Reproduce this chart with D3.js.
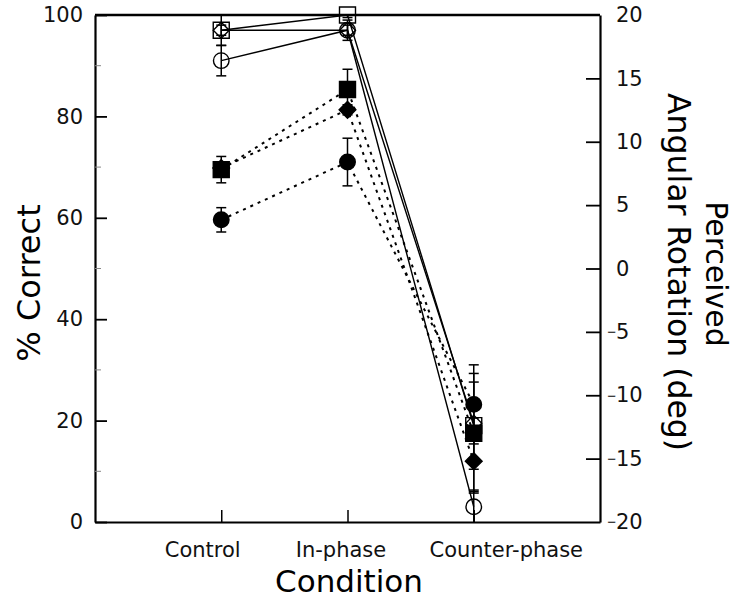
<!DOCTYPE html>
<html>
<head>
<meta charset="utf-8">
<script src="https://cdn.jsdelivr.net/npm/d3@7"></script>
<style>
  body { margin: 0; background: #fff; }
  svg { font-family: "DejaVu Sans", sans-serif; }
</style>
</head>
<body>
<svg id="chart" width="735" height="600"></svg>
<script>
// conditions on the x axis
const conditions = ["Control", "In-phase", "Counter-phase"];

// open symbols, solid lines (% correct)
const openSquare = [97, 100, 19];
const openSquareErr = [3, 0.5, 8.6];
const openDiamond = [97, 97, 19.5];
const openDiamondErr = [1, 1, 1];
const openCircle = [91, 97, 3];
const openCircleErr = [3, 2, 3.3];

// filled symbols, dotted lines
const filledSquare = [69.5, 85.3, 17.5];
const filledSquareErr = [2.6, 4, 11.8];
const filledDiamond = [69.8, 81.3, 12];
const filledDiamondErr = [1, 1, 6];
const filledCircle = [59.6, 71, 23.2];
const filledCircleErr = [2.4, 4.7, 7.8];

const leftTicks = [0, 20, 40, 60, 80, 100];
const leftMinor = [10, 30, 50, 70, 90];
const rightTicks = [-20, -15, -10, -5, 0, 5, 10, 15, 20];

const series = [
  { vals: openSquare, err: openSquareErr, shape: "square", filled: false },
  { vals: openDiamond, err: openDiamondErr, shape: "diamond", filled: false },
  { vals: openCircle, err: openCircleErr, shape: "circle", filled: false },
  { vals: filledSquare, err: filledSquareErr, shape: "square", filled: true },
  { vals: filledDiamond, err: filledDiamondErr, shape: "diamond", filled: true },
  { vals: filledCircle, err: filledCircleErr, shape: "circle", filled: true }
];

const plotL = 95, plotR = 600, plotT = 15, plotB = 522;
// the category labels sit a little off their ticks in the original
const labelShift = [-19, -7, 32];
const svg = d3.select("#chart");

const x = d3.scaleLinear().domain([0, 4]).range([plotL, plotR]);
const y = d3.scaleLinear().domain([0, 100]).range([plotB, plotT]);
const yr = d3.scaleLinear().domain([-20, 20]).range([plotB, plotT]);

// axes
const gl = svg.append("g").attr("transform", `translate(${plotL},0)`)
  .call(d3.axisLeft(y).tickValues(leftTicks).tickSize(-12).tickSizeOuter(0).tickPadding(12));
gl.selectAll("line").attr("stroke-width", 1.8);
gl.append("g").selectAll("line").data(leftMinor).join("line")
  .attr("x1", 0).attr("x2", 6).attr("y1", d => y(d)).attr("y2", d => y(d))
  .attr("stroke", "#888").attr("stroke-width", 1);

const gr = svg.append("g").attr("transform", `translate(${plotR},0)`)
  .call(d3.axisRight(yr).tickValues(rightTicks).tickSize(-14).tickSizeOuter(0).tickPadding(16)
    .tickFormat(d => Math.abs(d)));
gr.selectAll("line").attr("stroke-width", 1.8);
gr.selectAll(".tick line").filter(d => d === 20 || d === -20).remove();

const gb = svg.append("g").attr("transform", `translate(0,${plotB})`)
  .call(d3.axisBottom(x).tickValues([1, 2, 3]).tickSize(-12).tickSizeOuter(0).tickPadding(20)
    .tickFormat(d => conditions[d - 1]));
gb.selectAll("line").attr("stroke-width", 1.5);
gb.selectAll(".tick text").attr("dx", d => labelShift[d - 1]);

[gl, gr, gb].forEach(g => {
  g.selectAll("text").attr("font-size", 21).attr("fill", "#111")
    .attr("font-family", "DejaVu Sans");
  g.select(".domain").attr("stroke-width", 2.2).attr("stroke", "#000");
});

// hanging minus signs for the negative right-hand labels
gr.selectAll(".tick").filter(d => d < 0).append("text")
  .attr("x", 16).attr("dy", "0.32em")
  .attr("text-anchor", "end")
  .attr("font-size", 15).attr("fill", "#111")
  .text("\u2212");

svg.append("line").attr("x1", plotL).attr("x2", plotR).attr("y1", plotT).attr("y2", plotT)
  .attr("stroke", "#000").attr("stroke-width", 2.6);

// connecting lines
const line = d3.line().x((d, i) => x(i + 1)).y(d => y(d));
svg.append("g").selectAll("path").data(series).join("path")
  .attr("d", s => line(s.vals))
  .attr("fill", "none")
  .attr("stroke", "#000")
  .attr("stroke-width", s => s.filled ? 2 : 1.4)
  .attr("stroke-dasharray", s => s.filled ? "3,5" : null);

// error bars
const bars = [];
series.forEach(s => s.vals.forEach((v, i) => bars.push({ i: i, v: v, e: s.err[i] })));
const eb = svg.append("g").attr("stroke", "#000").attr("stroke-width", 1.5);
eb.selectAll(".v").data(bars).join("line")
  .attr("x1", d => x(d.i + 1)).attr("x2", d => x(d.i + 1))
  .attr("y1", d => y(Math.min(100, d.v + d.e))).attr("y2", d => y(Math.max(0, d.v - d.e)));
eb.selectAll(".cap").data(bars.flatMap(d => [d.v + d.e, d.v - d.e].map(c => ({ i: d.i, c: c }))))
  .join("line")
  .attr("x1", d => x(d.i + 1) - 5).attr("x2", d => x(d.i + 1) + 5)
  .attr("y1", d => y(d.c)).attr("y2", d => y(d.c))
  .attr("display", d => (d.c > 100 || d.c < 0) ? "none" : null);

// markers
const symFor = { square: d3.symbolSquare, circle: d3.symbolCircle, diamond: d3.symbolSquare };
const sizeFor = { square: 256, circle: 190, diamond: 140 };
series.forEach(s => {
  svg.append("g").selectAll("path").data(s.vals).join("path")
    .attr("d", d3.symbol().type(symFor[s.shape]).size(s.filled || s.shape !== "diamond" ? sizeFor[s.shape] : 128))
    .attr("transform", (d, i) => `translate(${x(i + 1)},${y(d)})` + (s.shape === "diamond" ? " rotate(45)" : ""))
    .attr("fill", s.filled ? "#000" : "none")
    .attr("stroke", "#000")
    .attr("stroke-width", 1.4);
});

// titles
svg.append("text").attr("transform", "translate(40,283) rotate(-90)")
  .attr("text-anchor", "middle").attr("font-size", 32).text("% Correct");
svg.append("text").attr("x", 349).attr("y", 592)
  .attr("text-anchor", "middle").attr("font-size", 31).text("Condition");
svg.append("text").attr("transform", "translate(706,274) rotate(90)")
  .attr("text-anchor", "middle").attr("font-size", 30).text("Perceived");
svg.append("text").attr("transform", "translate(668,272) rotate(90)")
  .attr("text-anchor", "middle").attr("font-size", 31.5).text("Angular Rotation (deg)");
</script>
</body>
</html>
